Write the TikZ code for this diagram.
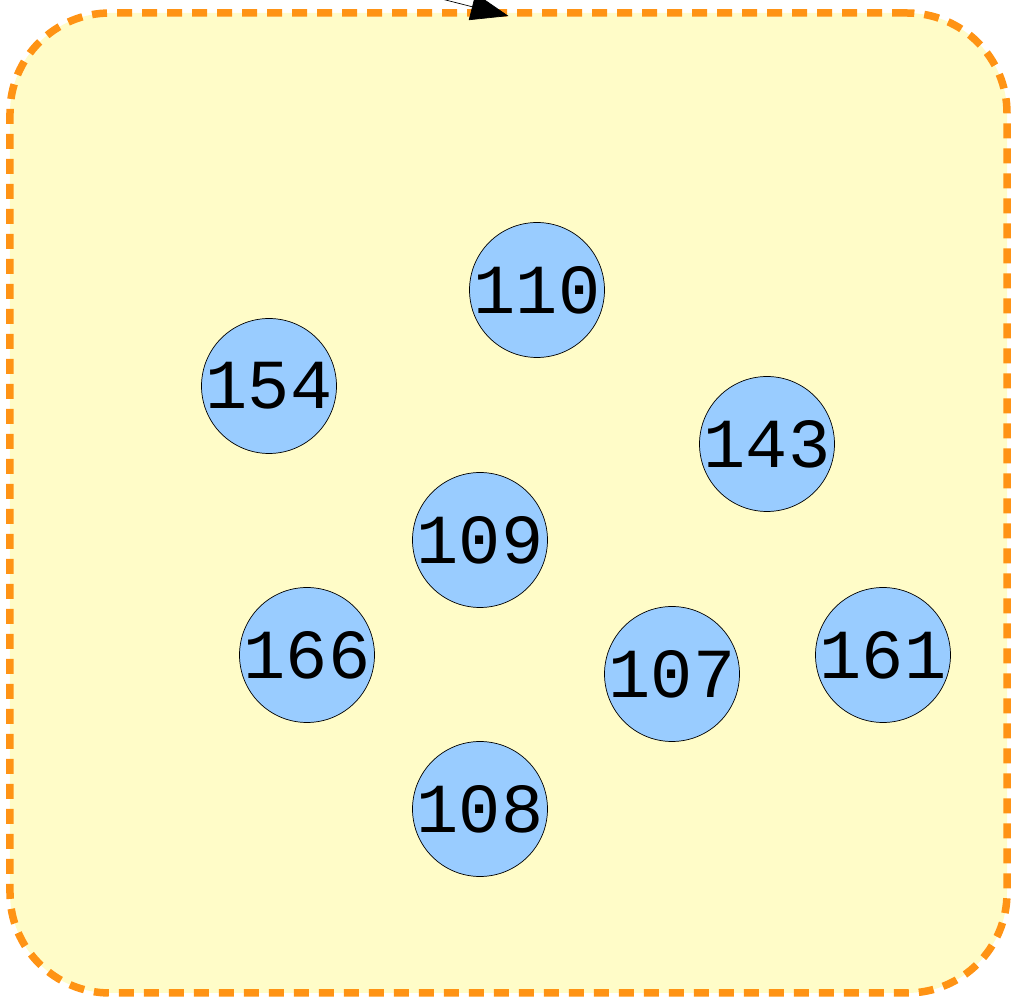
\documentclass[tikz,border=0pt]{standalone}
\usepackage{fontspec}
\setmonofont{Liberation Mono}
\usetikzlibrary{shapes.geometric, arrows.meta, positioning}
\definecolor{clusterfill}{RGB}{255,252,200}
\definecolor{clusterline}{RGB}{255,147,20}
\definecolor{nodeblue}{RGB}{153,204,255}
\tikzset{
  cluster/.style={rectangle, rounded corners=2cm, draw=clusterline,
    fill=clusterfill, line width=0.15cm, dash pattern=on 0.3cm off 0.2cm,
    minimum width=19.94cm, minimum height=19.6cm, outer sep=0pt},
  num/.style={circle, draw=black, fill=nodeblue, line width=0.4pt,
    minimum size=2.68cm, inner sep=0pt,
    font=\ttfamily\fontsize{40}{40}\selectfont},
  arrow/.style={-{Triangle[length=0.75cm, width=0.55cm]}, thin, color=black},
}
\begin{document}
\begin{tikzpicture}
  \useasboundingbox (0,0) rectangle (20.34,19.94);
  \node[cluster] (box) at (10.17,9.88) {};

  \node[num] (n110) at (10.74,14.14) {110};
  \node[num] (n154) at (5.38,12.22)  {154};
  \node[num] (n143) at (15.34,11.06) {143};
  \node[num] (n109) at (9.60,9.14)   {109};
  \node[num] (n166) at (6.14,6.84)   {166};
  \node[num] (n107) at (13.44,6.46)  {107};
  \node[num] (n161) at (17.66,6.84)  {161};
  \node[num] (n108) at (9.60,3.76)   {108};

  \coordinate (src) at (6.0,20.68);
  \draw[arrow] (src) -- ([yshift=-0.06cm]box.north);
\end{tikzpicture}
\end{document}
